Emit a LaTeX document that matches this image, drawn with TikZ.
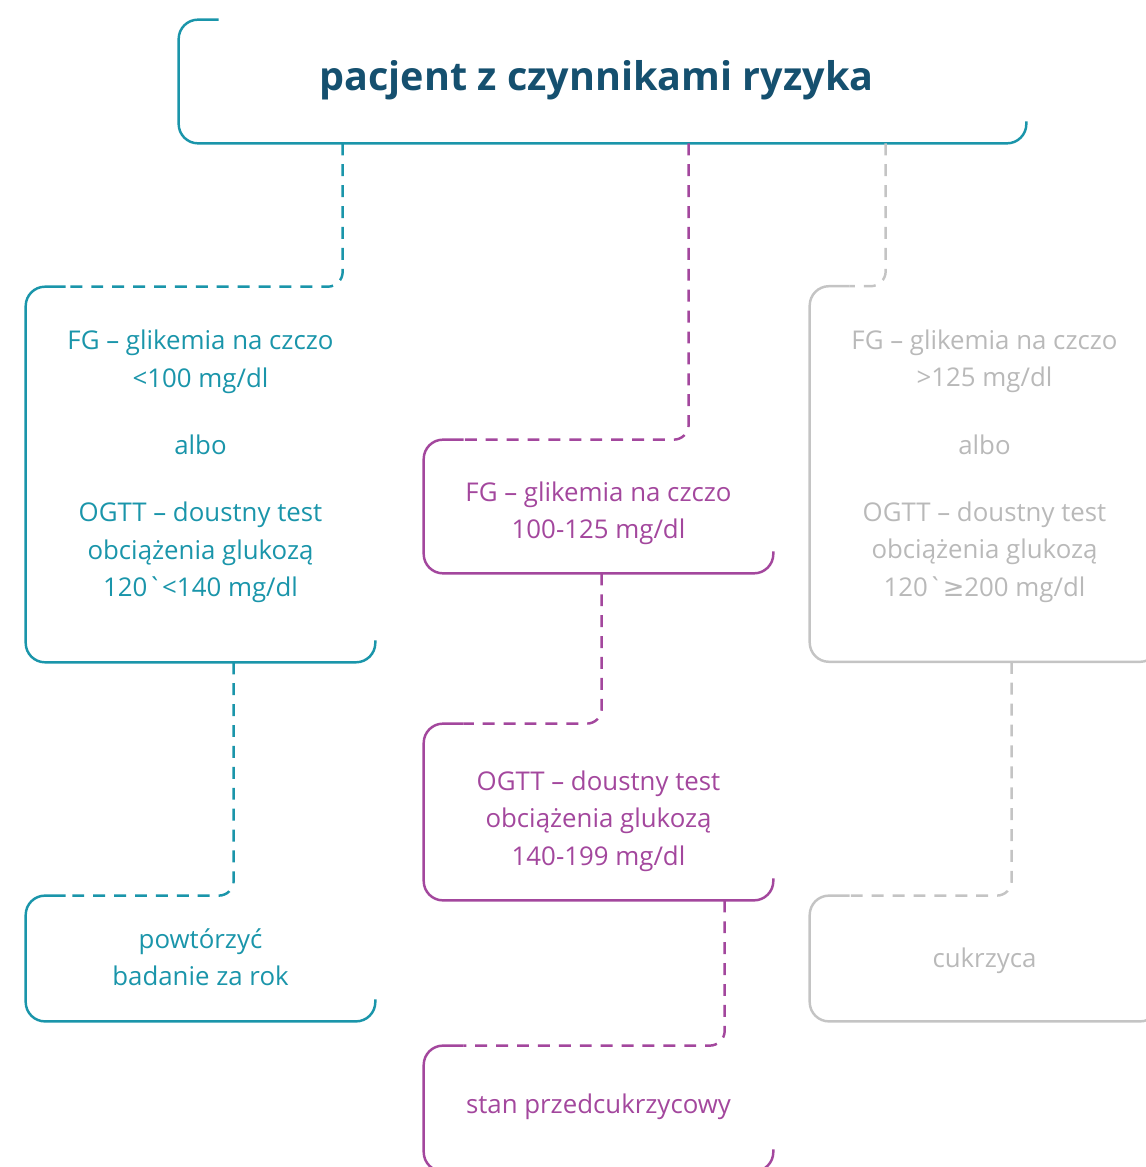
\documentclass[tikz,border=0pt]{standalone}
\usepackage{fontspec}
\setmainfont{Open Sans}
\newfontfamily\symfont{DejaVu Sans}
\usetikzlibrary{calc}

\definecolor{tealc}{HTML}{1A95AA}
\definecolor{titlec}{HTML}{15506F}
\definecolor{purplec}{HTML}{A3479D}
\definecolor{greyc}{HTML}{C4C4C4}
\definecolor{greyt}{HTML}{B9B9B9}

\newcommand{\openbox}[2]{\draw[#1,line width=1.4pt,rounded corners=11pt]
  ($(#2.north west)+(40,0)$) -- (#2.north west) -- (#2.south west)
  -- (#2.south east) -- ($(#2.south east)+(0,-22)$);}

\begin{document}
\begin{tikzpicture}[x=0.5692pt,y=-0.5692pt,
  frame/.style={inner sep=0pt,minimum width=198.6pt},
  txt/.style={inner sep=0pt,align=center,font=\fontsize{14.7pt}{21.3pt}\selectfont},
  link/.style={line width=1.4pt,dash pattern=on 6.8pt off 5.1pt,rounded corners=8.5pt}]

\useasboundingbox (0,0) rectangle (1145,1167);

% frames
\node[frame,minimum width=482.1pt,minimum height=70pt] (top) at (602.5,81.5) {};
\node[frame,minimum height=213.4pt] (fgok) at (200.5,474.5) {};
\node[frame,minimum height=71.2pt] (repeat) at (200.5,958.5) {};
\node[frame,minimum height=75.7pt] (fgmid) at (598.5,506.5) {};
\node[frame,minimum height=100.2pt] (ogtt) at (598.5,812) {};
\node[frame,minimum height=71.2pt] (pre) at (598.5,1108.5) {};
\node[frame,minimum height=213.4pt] (fghigh) at (984.5,474) {};
\node[frame,minimum height=71.2pt] (diab) at (984.5,958.5) {};

% texts
\node[inner sep=0pt,text=titlec,font=\bfseries\fontsize{22.5pt}{27pt}\selectfont]
  (toptext) at ($(top)+(-6,-1)$) {pacjent z czynnikami ryzyka};
\node[txt,text=tealc] (fgoktext) at ($(fgok)+(0,-8)$)
  {FG -- glikemia na czczo\\ <100 mg/dl\\[17pt] albo\\[17pt] OGTT -- doustny test\\ obciążenia glukozą\\ 120\textasciigrave<140 mg/dl};
\node[txt,text=tealc] (repeattext) at ($(repeat)+(0,-1)$) {powtórzyć\\ badanie za rok};
\node[txt,text=purplec] (fgmidtext) at ($(fgmid)+(0,6.5)$) {FG -- glikemia na czczo\\ 100-125 mg/dl};
\node[txt,text=purplec] (ogtttext) at ($(ogtt)+(0,9)$) {OGTT -- doustny test\\ obciążenia glukozą\\ 140-199 mg/dl};
\node[txt,text=purplec] (pretext) at ($(pre)+(0,-1.5)$) {stan przedcukrzycowy};
\node[txt,text=greyt] (fghightext) at ($(fghigh)+(0,-8)$)
  {FG -- glikemia na czczo\\ >125 mg/dl\\[17pt] albo\\[17pt] OGTT -- doustny test\\ obciążenia glukozą\\ 120\textasciigrave{\symfont ≥}200 mg/dl};
\node[txt,text=greyt] (diabtext) at ($(diab)+(0,2)$) {cukrzyca};

\openbox{tealc}{top}
\openbox{tealc}{fgok}
\openbox{tealc}{repeat}
\openbox{purplec}{fgmid}
\openbox{purplec}{ogtt}
\openbox{purplec}{pre}
\openbox{greyc}{fghigh}
\openbox{greyc}{diab}

% connectors
\draw[link,tealc] ($(top.south west)+(164,0)$) |- ($(fgok.north west)+(40,0)$);
\draw[link,purplec] ($(top.south west)+(510,0)$) |- ($(fgmid.north west)+(40,0)$);
\draw[link,greyc] ($(top.south west)+(707,0)$) |- ($(fghigh.north west)+(40,0)$);
\draw[link,tealc] ($(fgok.south west)+(208,0)$) |- ($(repeat.north west)+(40,0)$);
\draw[link,purplec] ($(fgmid.south west)+(178,0)$) |- ($(ogtt.north west)+(40,0)$);
\draw[link,purplec] ($(ogtt.south west)+(301,0)$) |- ($(pre.north west)+(40,0)$);
\draw[link,greyc] ($(fghigh.south west)+(202,0)$) |- ($(diab.north west)+(40,0)$);

\end{tikzpicture}
\end{document}
